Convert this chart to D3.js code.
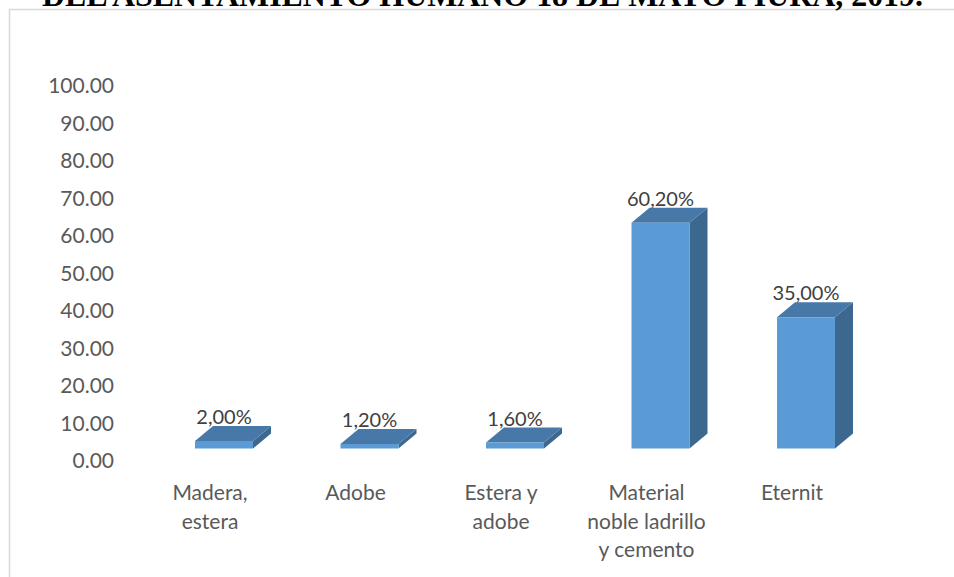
<!DOCTYPE html>
<html>
<head>
<meta charset="utf-8">
<script src="https://cdn.jsdelivr.net/npm/d3@7"></script>
<style>
  html, body { margin: 0; padding: 0; background: #fff; overflow: hidden; }
  svg { display: block; }
</style>
</head>
<body>
<svg id="chart" width="954" height="577"></svg>
<script>
// Materiales de construcción de la vivienda (%)
const titleText = "DEL ASENTAMIENTO HUMANO 18 DE MAYO PIURA, 2019.";
const categories = ["Madera,\nestera", "Adobe", "Estera y\nadobe", "Material\nnoble ladrillo\ny cemento", "Eternit"];
const values = [2.00, 1.20, 1.60, 60.20, 35.00];
const yTicks = [0, 10, 20, 30, 40, 50, 60, 70, 80, 90, 100];

const svg = d3.select("#chart");
const W = 954, H = 577;

// chart area frame (continues past the right and bottom edges)
svg.append("rect")
  .attr("x", 9.5).attr("y", 9.5)
  .attr("width", W + 20).attr("height", H + 20)
  .attr("fill", "#fff")
  .attr("stroke", "#d9d9d9").attr("stroke-width", 1.5);

// title (upper part falls outside the page)
svg.append("text")
  .attr("x", 42).attr("y", 5.5)
  .attr("textLength", 881).attr("lengthAdjust", "spacingAndGlyphs")
  .attr("font-family", "'Liberation Serif', 'Times New Roman', serif")
  .attr("font-weight", "bold")
  .attr("font-size", 31)
  .attr("fill", "#000")
  .text(titleText);

const y = d3.scaleLinear().domain([0, 100]).range([448.5, 73.5]);
const x = d3.scaleBand().domain(categories).range([137.25, 864.75]).padding(0);

// 3D depth of the columns
const dx = 18, dy = 15;
const barW = 58, barShift = 14;

const fmtLocale = d3.formatLocale({ decimal: ",", thousands: ".", grouping: [3], currency: ["", ""] });
const pct = v => fmtLocale.format(".2f")(v) + "%";

// y axis labels
const yAxis = d3.axisLeft(y)
  .tickValues(yTicks)
  .tickFormat(d3.format(".2f"))
  .tickSize(0).tickPadding(0);
const gy = svg.append("g")
  .attr("transform", "translate(114,12.5)")
  .call(yAxis);
gy.select(".domain").remove();
gy.selectAll("text")
  .attr("font-family", "Lato, 'Open Sans', sans-serif")
  .attr("font-size", 21)
  .attr("fill", "#595959");

// columns
const bars = svg.append("g").selectAll("g.bar")
  .data(categories.map((c, i) => ({ c, v: values[i] })))
  .join("g").attr("class", "bar");

bars.each(function(d) {
  const g = d3.select(this);
  const cx = x(d.c) + x.bandwidth() / 2 + barShift;
  const x0 = cx - barW / 2, x1 = cx + barW / 2;
  const yt = y(d.v), yb = y(0);
  // side face
  g.append("path")
    .attr("d", `M${x1},${yt}L${x1 + dx},${yt - dy}L${x1 + dx},${yb - dy}L${x1},${yb}Z`)
    .attr("fill", "#3c6890");
  // top face
  g.append("path")
    .attr("d", `M${x0},${yt}L${x0 + dx},${yt - dy}L${x1 + dx},${yt - dy}L${x1},${yt}Z`)
    .attr("fill", "#4878a8");
  // front face
  g.append("rect")
    .attr("x", x0).attr("y", yt)
    .attr("width", barW).attr("height", yb - yt)
    .attr("fill", "#5b9bd5");
  // value label
  g.append("text")
    .attr("x", cx).attr("y", yt - dy - 2)
    .attr("text-anchor", "middle")
    .attr("font-family", "Lato, 'Open Sans', sans-serif")
    .attr("font-size", 20)
    .attr("fill", "#404040")
    .text(pct(d.v));
});

// category labels
const xLabels = svg.append("g").selectAll("text")
  .data(categories)
  .join("text")
  .attr("text-anchor", "middle")
  .attr("font-family", "Lato, 'Open Sans', sans-serif")
  .attr("font-size", 21)
  .attr("fill", "#595959")
  .attr("transform", d => `translate(${x(d) + x.bandwidth() / 2},500)`);
xLabels.each(function(d) {
  const t = d3.select(this);
  d.split("\n").forEach((line, i) => {
    t.append("tspan").attr("x", 0).attr("y", i * 28.5).text(line);
  });
});
</script>
</body>
</html>
